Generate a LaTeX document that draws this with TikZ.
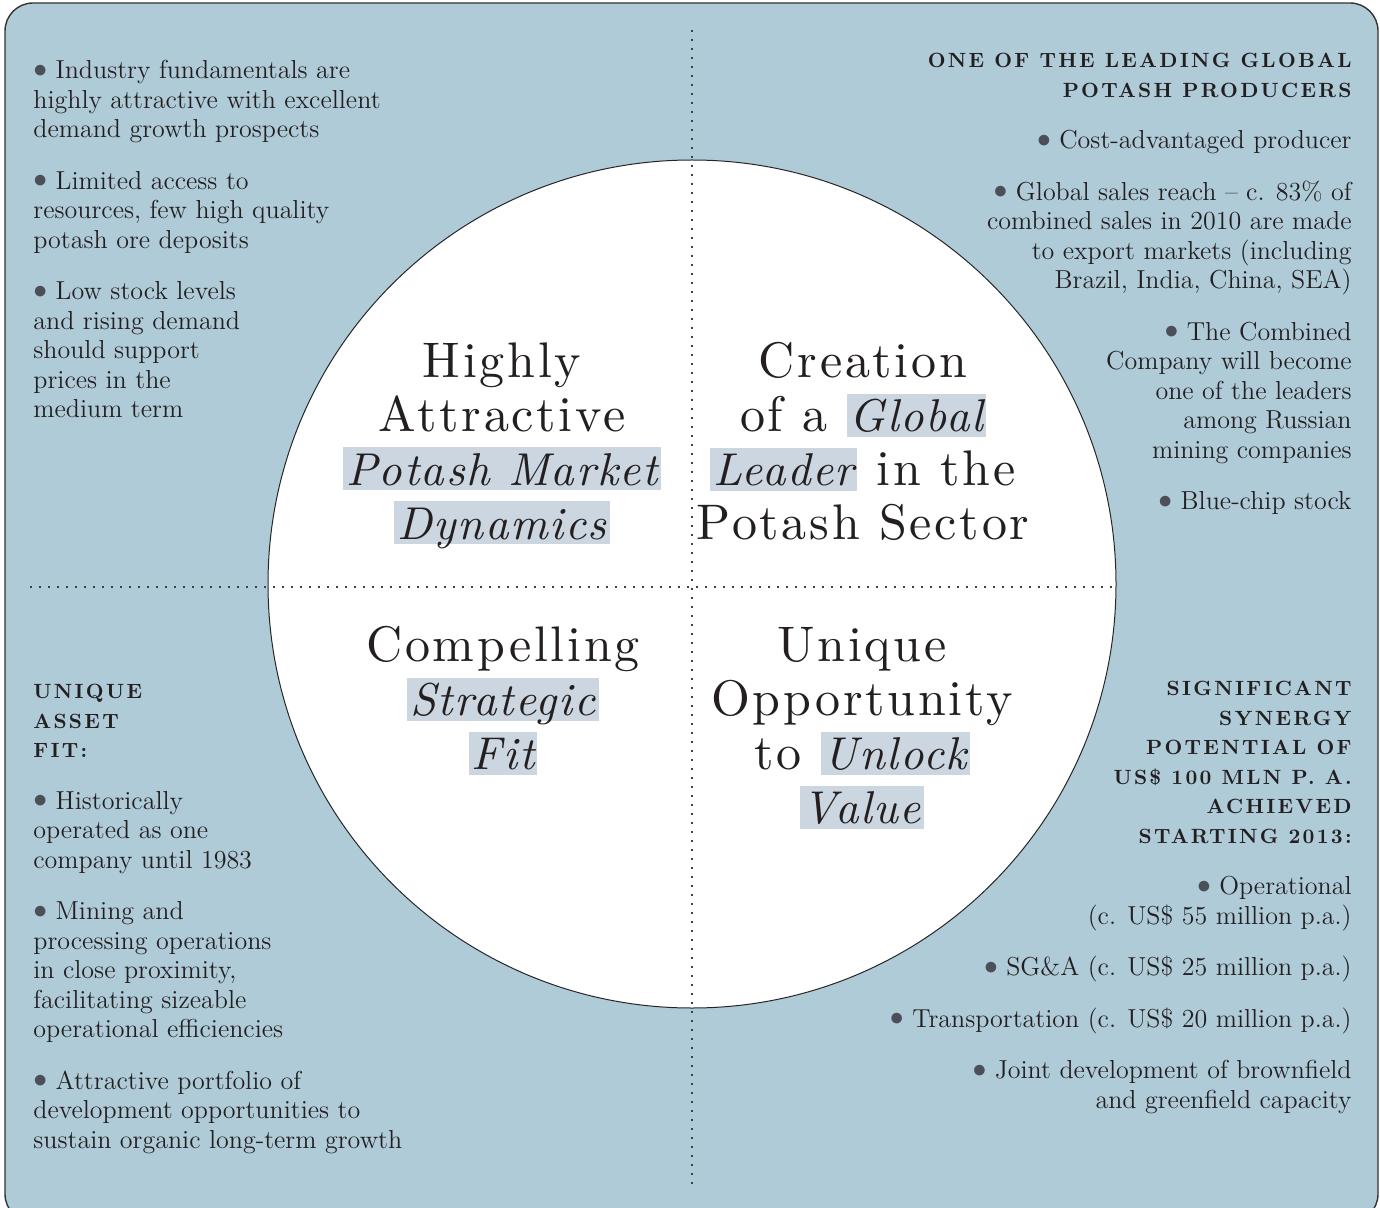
\documentclass[tikz,border=0pt]{standalone}
\usepackage{fontspec}
\usepackage{graphicx}
\usepackage{xcolor}
\usepackage{tikz}
\definecolor{paneblue}{HTML}{AFCBD8}
\definecolor{hlblue}{HTML}{CBD6E0}
\definecolor{dotgrey}{HTML}{4A4F58}
\definecolor{ink}{HTML}{231F20}
\newfontfamily\headfam[LetterSpace=11]{lmroman10-bold.otf}
\newfontfamily\titlefam[LetterSpace=5.5,
  ItalicFont=lmroman10-italic.otf,
  ItalicFeatures={LetterSpace=3.5}]{lmroman10-regular.otf}
\newcommand\bul{\textcolor{dotgrey}{\raisebox{0.8pt}{\scalebox{1.15}{$\bullet$}}}\ }
\newcommand\hl[1]{{\setlength\fboxsep{1.5pt}\colorbox{hlblue}{\rule[-1pt]{0pt}{18.5pt}\smash{\fontsize{23}{27}\selectfont\itshape #1}}}}
\newcommand\headfont{\fontsize{10.3}{14.75}\selectfont\headfam}
\tikzset{
  panel/.style={
    draw=black!80, fill=paneblue, line width=0.7pt,
    rounded corners=14pt},
  disc/.style={
    circle, draw=black!85, fill=white, line width=0.5pt,
    minimum size=424pt, inner sep=0pt},
  divider/.style={
    draw=black!75, line width=0.8pt,
    dash pattern=on 0.8pt off 3.7pt},
  notes/.style={
    font=\fontsize{13}{14.75}\selectfont, text=ink,
    inner sep=0pt, align=#1},
  notes/.default=left,
  headline/.style={
    font=\fontsize{25}{27}\selectfont\titlefam, text=ink,
    inner sep=0pt, align=center, anchor=north},
}
\begin{document}
\begin{tikzpicture}[x=0.5pt,y=-0.5pt]
  \useasboundingbox (0,0) rectangle (1380,1208);
  \draw[panel] (5,3) rectangle (1378,1222);
  \node[disc] (disc) at (692,584) {};
  \coordinate (vtop) at (692,30);
  \coordinate (vbot) at (692,1190);
  \coordinate (hleft) at (30,587);
  \draw[divider] (vtop) -- (vbot);
  \draw[divider] (hleft) -- (hleft -| disc.east);

  \node[notes, anchor=north west] (market notes) at (33,60) {%
    \bul Industry fundamentals are\\
    highly attractive with excellent\\
    demand growth prospects\\[11pt]
    \bul Limited access to\\
    resources, few high quality\\
    potash ore deposits\\[11pt]
    \bul Low stock levels\\
    and rising demand\\
    should support\\
    prices in the\\
    medium term};
  \node[notes=right, anchor=north east] (leader notes) at (1352,53) {%
    {\headfont ONE OF THE LEADING GLOBAL}\\
    {\headfont POTASH PRODUCERS}\\[11pt]
    \bul Cost-advantaged producer\\[11pt]
    \bul Global sales reach -- c. 83\% of\\
    combined sales in 2010 are made\\
    to export markets (including\\
    Brazil, India, China, SEA)\\[11pt]
    \bul The Combined\\
    Company will become\\
    one of the leaders\\
    among Russian\\
    mining companies\\[11pt]
    \bul Blue-chip stock};
  \node[notes, anchor=north west] (fit notes) at (33,684) {%
    {\headfont UNIQUE}\\
    {\headfont ASSET}\\
    {\headfont FIT:}\\[11pt]
    \bul Historically\\
    operated as one\\
    company until 1983\\[11pt]
    \bul Mining and\\
    processing operations\\
    in close proximity,\\
    facilitating sizeable\\
    operational efficiencies\\[11pt]
    \bul Attractive portfolio of\\
    development opportunities to\\
    sustain organic long-term growth};
  \node[notes=right, anchor=north east] (value notes) at (1352,681) {%
    {\headfont SIGNIFICANT}\\
    {\headfont SYNERGY}\\
    {\headfont POTENTIAL OF}\\
    {\headfont US\$ 100 MLN P. A.}\\
    {\headfont ACHIEVED}\\
    {\headfont STARTING 2013:}\\[11pt]
    \bul Operational\\
    (c. US\$ 55 million p.a.)\\[11pt]
    \bul SG\&A (c. US\$ 25 million p.a.)\\[11pt]
    \bul Transportation (c. US\$ 20 million p.a.)\\[11pt]
    \bul Joint development of brownfield\\
    and greenfield capacity};

  \node[headline] (market) at (502,342) {Highly\\Attractive\\\hl{Potash Market}\\\hl{Dynamics}};
  \node[headline] (leader) at (863,342) {Creation\\of a \hl{Global}\\\hl{Leader} in the\\Potash Sector};
  \node[headline] (fit) at (503,626) {Compelling\\\hl{Strategic}\\\hl{Fit}};
  \node[headline] (value) at (862,627) {Unique\\Opportunity\\to \hl{Unlock}\\\hl{Value}};
\end{tikzpicture}
\end{document}
